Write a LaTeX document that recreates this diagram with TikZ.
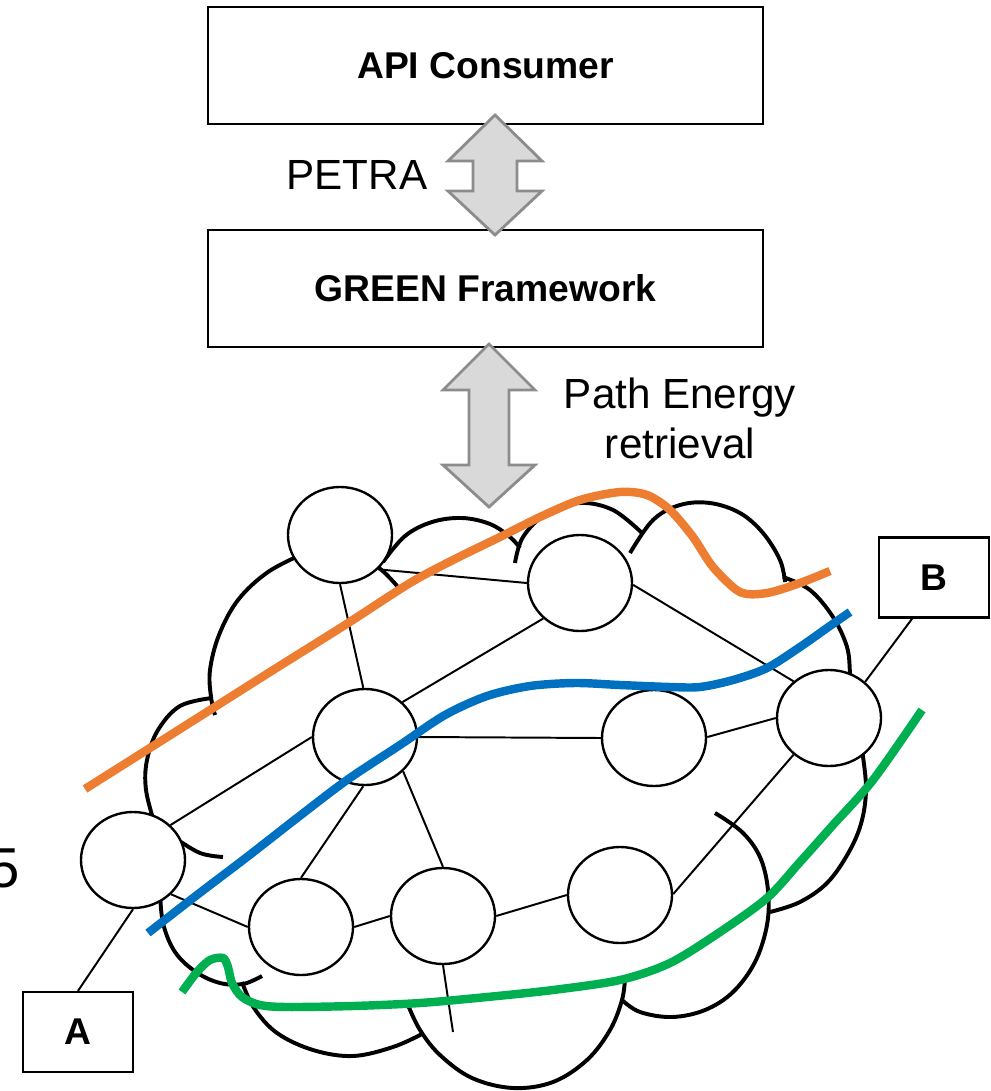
\documentclass[tikz,border=0pt]{standalone}
\usepackage{fontspec}
\setmainfont{Liberation Sans}
\usetikzlibrary{shapes.geometric}
\definecolor{pathorange}{HTML}{ED7D31}
\definecolor{pathblue}{HTML}{0070C0}
\definecolor{pathgreen}{HTML}{00B050}
\definecolor{arrowfill}{HTML}{D9D9D9}
\definecolor{arrowline}{HTML}{8C8C8C}

\begin{document}
\begin{tikzpicture}[x=0.025cm, y=0.025cm,
        tierbox/.style={draw, line width=1.6pt, inner sep=0pt, minimum width=13.875cm, minimum height=2.925cm, font=\fontsize{26.5}{30}\selectfont\bfseries},
        hostbox/.style={draw, line width=1.6pt, inner sep=0pt, minimum width=2.75cm, minimum height=2cm, font=\fontsize{26.5}{30}\selectfont\bfseries},
        router/.style={ellipse, draw, fill=white, line width=1.7pt, inner sep=0pt, minimum width=2.6cm, minimum height=2.4cm},
        cloudline/.style={line width=2.8pt},
        link/.style={line width=1.4pt},
        bigarrow/.style={draw=arrowline, fill=arrowfill, line width=2pt, line join=miter},
        route/.style={line width=6pt},
        annot/.style={font=\fontsize{30}{35.5}\selectfont, align=center}]
        \useasboundingbox (0,0) rectangle (991,-1091);

        \node[tierbox] (api) at (485.5,-65.5) {API Consumer};
        \node[tierbox] (green) at (485.5,-288.5) {GREEN Framework};
        \node[annot] (petra) at (357,-175) {PETRA};
        \node[annot] (energy) at (680,-418) {Path Energy\\retrieval};
        \node[font=\fontsize{40}{48}\selectfont, anchor=base] (five) at (4.5,-887) {5};

        \coordinate (up1) at (495,-115);
        \coordinate (up2) at (489,-344);
        \draw[bigarrow] (up1) -- ++(47,-46) -- ++(-25,0) -- ++(0,-30) -- ++(25,0) -- ++(-47,-44)
            -- ++(-47,44) -- ++(25,0) -- ++(0,30) -- ++(-25,0) -- cycle;
        \draw[bigarrow] (up2) -- ++(46,-46) -- ++(-26,0) -- ++(0,-75) -- ++(26,0) -- ++(-46,-42)
            -- ++(-46,42) -- ++(26,0) -- ++(0,75) -- ++(-26,0) -- cycle;

        \draw[cloudline] plot[smooth, tension=0.6] coordinates {(305,-553) (268,-572) (238,-600) (219,-635) (210,-670) (211,-697) (215,-715)};
        \draw[cloudline] plot[smooth, tension=0.6] coordinates {(372,-562) (386,-574) (398,-587)};
        \draw[cloudline] plot[smooth, tension=0.6] coordinates {(383,-562) (405,-536) (432,-522) (462,-518) (490,-524) (510,-537) (520,-548)};
        \draw[cloudline] plot[smooth, tension=0.6] coordinates {(515,-563) (523,-537) (547,-513) (580,-503) (613,-510) (642,-533)};
        \draw[cloudline] plot[smooth, tension=0.6] coordinates {(630,-553) (653,-520) (680,-505) (710,-503) (740,-513) (763,-533) (780,-560) (785,-582)};
        \draw[cloudline] plot[smooth, tension=0.6] coordinates {(783,-577) (810,-590) (833,-617) (847,-647) (850,-673) (851,-690)};
        \draw[cloudline] plot[smooth, tension=0.6] coordinates {(862,-750) (866,-787) (862,-820) (850,-850) (828,-882) (800,-902) (770,-912)};
        \draw[cloudline] plot[smooth, tension=0.6] coordinates {(715,-813) (742,-832) (760,-857) (768,-890) (767,-925) (755,-962) (733,-992) (705,-1010) (672,-1017) (640,-1012) (622,-1000)};
        \draw[cloudline] plot[smooth, tension=0.6] coordinates {(408,-1005) (420,-1030) (440,-1055) (472,-1078) (513,-1088) (553,-1082) (587,-1060) (610,-1030) (622,-1000) (625,-978)};
        \draw[cloudline] plot[smooth, tension=0.6] coordinates {(242,-982) (254,-1008) (277,-1033) (313,-1050) (353,-1056) (393,-1047) (422,-1034)};
        \draw[cloudline] plot[smooth, tension=0.6] coordinates {(160,-890) (163,-923) (175,-952) (196,-972) (220,-983) (243,-984) (262,-976)};
        \draw[cloudline] plot[smooth, tension=0.6] coordinates {(175,-838) (200,-853) (223,-857)};
        \draw[cloudline] plot[smooth, tension=0.6] coordinates {(212,-698) (180,-706) (158,-730) (147,-760) (146,-790) (155,-825)};

        \foreach \name/\x/\y in {n1/340/535, n2/580/583, n3/365/737, n4/654/738, n5/829/718,
                n6/133/860, n7/301/927, n8/443/916, n9/620/895} {
            \node[router] (\name) at (\x,-\y) {};
        }
        \node[hostbox] (b) at (934,-577.5) {B};
        \node[hostbox] (a) at (78,-1032) {A};
        \coordinate (stub) at (453,-1032);

        \foreach \from/\to in {n1.-42/n2.180, n1.-90/n3.92, n2.-136/n3.43, n2.-2/n5.134, n3.0/n4.180,
                n4.1/n5.180, n3.180/n6.43, n3.-92/n7.90, n3.-42/n8.90, n6.-42/n7.180, n7.0/n8.180,
                n8.0/n9.180, n9.1/n5.-134, n5.45/b.-118, n6.-90/a.north, n8.-90/stub} {
            \draw[link] (\from) -- (\to);
        }

        \draw[route, pathorange] plot[smooth] coordinates {(85,-789) (180,-729) (270,-672) (345,-625) (410,-583) (455,-559) (500,-537) (540,-517) (580,-500) (620,-492) (647,-495) (670,-510) (693,-537) (713,-567) (740,-592) (767,-593) (800,-583) (830,-571)};
        \draw[route, pathblue] plot[smooth] coordinates {(148,-933) (197,-895) (247,-857) (297,-818) (347,-780) (400,-745) (445,-715) (487,-696) (530,-686) (575,-683) (620,-685) (670,-687) (700,-687) (733,-680) (767,-668) (800,-647) (827,-628) (850,-612)};
        \draw[route, pathgreen] plot[smooth] coordinates {(182,-992) (197,-972) (210,-960) (223,-958) (228,-967) (232,-983) (242,-997) (260,-1005) (287,-1007) (353,-1006) (420,-1003) (487,-997) (553,-990) (620,-980) (670,-963) (720,-932) (767,-898) (800,-862) (833,-825) (873,-780) (922,-710)};
    \end{tikzpicture}
\end{document}
